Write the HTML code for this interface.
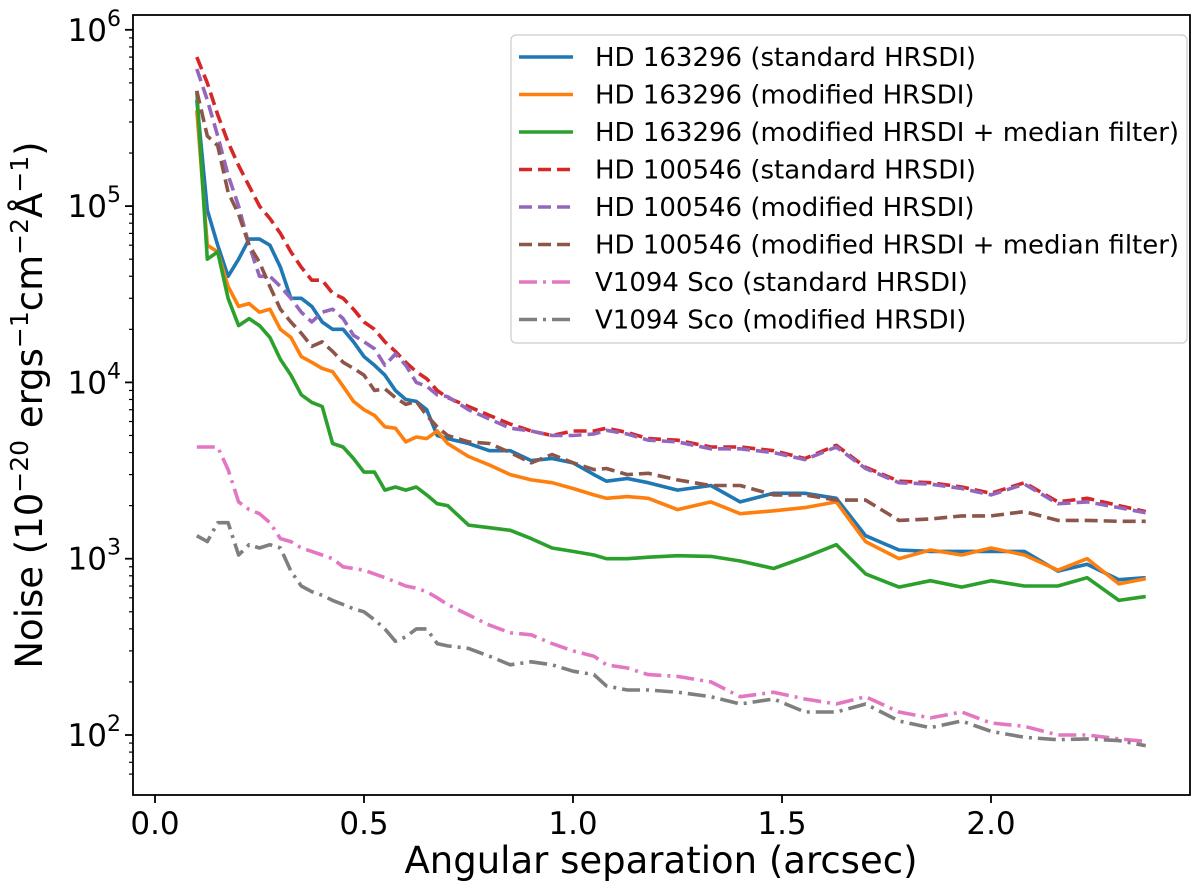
<!DOCTYPE html>
<html><head><meta charset="utf-8"><style>
body{margin:0;background:#fff;}
svg{display:block;font-family:"DejaVu Sans","Liberation Sans",sans-serif;}
</style></head><body>
<svg id="chart" width="1200" height="896">
<g id="marks"></g>
<g id="axes"></g>
<g id="legend"></g>
</svg>
<script>
const xs=[0.10,0.125,0.15,0.175,0.20,0.225,0.25,0.275,0.30,0.325,0.35,0.375,0.40,0.425,0.45,0.475,0.50,0.525,0.55,0.575,0.60,0.625,0.65,0.675,0.70,0.75,0.80,0.85,0.90,0.95,1.0,1.05,1.08,1.13,1.18,1.25,1.33,1.40,1.48,1.555,1.63,1.70,1.78,1.855,1.93,2.0,2.08,2.16,2.23,2.306,2.37];
const hdStd=[4e5,9.5e4,6e4,4e4,5e4,6.5e4,6.5e4,6e4,4.5e4,3e4,3e4,2.7e4,2.2e4,2e4,2e4,1.7e4,1.4e4,1.25e4,1.1e4,9e3,8e3,7.8e3,7e3,5e3,4.8e3,4.5e3,4.1e3,4.1e3,3.6e3,3.7e3,3.5e3,3.0e3,2.75e3,2.85e3,2.7e3,2.45e3,2.6e3,2.1e3,2.35e3,2.35e3,2.2e3,1.35e3,1.12e3,1.1e3,1.1e3,1.1e3,1.1e3,850,930,760,780];
const hdMod=[3.5e5,6e4,5.5e4,3.5e4,2.7e4,2.8e4,2.5e4,2.6e4,2e4,1.8e4,1.4e4,1.3e4,1.2e4,1.15e4,9.5e3,7.8e3,7e3,6.5e3,5.6e3,5.5e3,4.6e3,4.9e3,4.8e3,5.3e3,4.5e3,3.8e3,3.4e3,3.0e3,2.8e3,2.7e3,2.5e3,2.3e3,2.2e3,2.25e3,2.2e3,1.9e3,2.1e3,1.8e3,1.87e3,1.95e3,2.1e3,1.25e3,1.0e3,1.12e3,1.05e3,1.15e3,1.05e3,860,1.0e3,720,770];
const hdMed=[4.5e5,5e4,5.5e4,3e4,2.1e4,2.3e4,2.1e4,1.8e4,1.35e4,1.1e4,8.5e3,7.7e3,7.3e3,4.5e3,4.3e3,3.7e3,3.1e3,3.1e3,2.45e3,2.55e3,2.45e3,2.55e3,2.3e3,2.05e3,2.0e3,1.55e3,1.5e3,1.45e3,1.3e3,1.15e3,1.1e3,1.05e3,1.0e3,1.0e3,1.02e3,1.04e3,1.03e3,970,880,1.02e3,1.2e3,820,690,750,690,750,700,700,780,580,610];
const hd2Std=[7e5,5e5,3.3e5,2.3e5,1.7e5,1.3e5,1e5,8.5e4,7e4,5.5e4,4.5e4,3.8e4,3.8e4,3.2e4,3e4,2.6e4,2.2e4,2e4,1.7e4,1.5e4,1.3e4,1.15e4,1.05e4,9e3,8.2e3,7.3e3,6.5e3,5.8e3,5.3e3,5.0e3,5.3e3,5.3e3,5.5e3,5.2e3,4.8e3,4.7e3,4.3e3,4.3e3,4.1e3,3.7e3,4.4e3,3.3e3,2.75e3,2.7e3,2.55e3,2.35e3,2.7e3,2.1e3,2.2e3,2.0e3,1.85e3];
const hd2Mod=[6e5,4e5,2.5e5,1.5e5,1e5,6e4,4e4,4e4,3.5e4,3e4,2.5e4,2.2e4,2.5e4,2.6e4,2.3e4,1.85e4,1.7e4,1.55e4,1.25e4,1.45e4,1.25e4,1e4,9.5e3,8.5e3,8.3e3,7.0e3,6.2e3,5.5e3,5.3e3,5.0e3,5.0e3,5.1e3,5.35e3,5.1e3,4.7e3,4.6e3,4.2e3,4.2e3,4.0e3,3.65e3,4.3e3,3.25e3,2.7e3,2.65e3,2.5e3,2.3e3,2.65e3,2.05e3,2.1e3,1.95e3,1.82e3];
const hd2Med=[4.5e5,2.5e5,2.2e5,1.2e5,9e4,6e4,4.8e4,3.5e4,2.6e4,2.2e4,1.9e4,1.6e4,1.7e4,1.5e4,1.3e4,1.2e4,1.1e4,9e3,9.2e3,8.2e3,7.5e3,7.8e3,6.5e3,5.6e3,5.0e3,4.6e3,4.5e3,4.0e3,3.5e3,3.9e3,3.5e3,3.2e3,3.25e3,3.0e3,3.05e3,2.8e3,2.6e3,2.6e3,2.3e3,2.3e3,2.15e3,2.15e3,1.65e3,1.68e3,1.75e3,1.75e3,1.85e3,1.65e3,1.65e3,1.63e3,1.63e3];
const vStd=[4.3e3,4.3e3,4.3e3,3.2e3,2.1e3,1.9e3,1.8e3,1.6e3,1.3e3,1.25e3,1.15e3,1.1e3,1.05e3,1.0e3,900,880,860,820,780,740,700,680,650,600,550,480,420,380,370,330,300,280,250,240,220,215,200,165,175,160,150,165,135,125,135,117,112,100,100,95,92];
const vMod=[1.35e3,1.25e3,1.6e3,1.6e3,1.05e3,1.2e3,1.15e3,1.2e3,1.15e3,850,700,650,620,580,550,520,500,450,400,340,360,400,400,330,320,310,280,250,260,250,230,220,190,180,180,175,165,150,160,135,135,150,120,110,120,105,97,94,95,93,87];
const names=["HD 163296 (standard HRSDI)","HD 163296 (modified HRSDI)","HD 163296 (modified HRSDI + median filter)","HD 100546 (standard HRSDI)","HD 100546 (modified HRSDI)","HD 100546 (modified HRSDI + median filter)","V1094 Sco (standard HRSDI)","V1094 Sco (modified HRSDI)"];
const xTicks=[0.0,0.5,1.0,1.5,2.0];
const yTicks=[2,3,4,5,6];

const series=[hdStd,hdMod,hdMed,hd2Std,hd2Mod,hd2Med,vStd,vMod];
const colors=["#1f77b4","#ff7f0e","#2ca02c","#d62728","#9467bd","#8c564b","#e377c2","#7f7f7f"];
const dashes=["","","","13,6","13,6","13,6","18,6,3,6","18,6,3,6"];
const L=133,R=1190,T=15,B=795;
const X=v=>155+(v)*418;
const Y=v=>735-(Math.log10(v)-2)*176.3;
const NS="http://www.w3.org/2000/svg";
function mk(t,a,p){const e=document.createElementNS(NS,t);for(const k in a)e.setAttribute(k,a[k]);p.appendChild(e);return e;}
const marks=document.getElementById('marks'),axes=document.getElementById('axes'),leg=document.getElementById('legend');
series.forEach((s,i)=>{
  const pts=s.map((v,j)=>X(xs[j]).toFixed(1)+","+Y(v).toFixed(1)).join(" ");
  const pl=mk('polyline',{points:pts,fill:'none',stroke:colors[i],'stroke-width':3.6,'stroke-dasharray':dashes[i],'stroke-linejoin':'round'},marks);
  
  
});
const fr=mk('rect',{x:L,y:T,width:R-L,height:B-T,fill:'none',stroke:'#000','stroke-width':1.8},axes);


xTicks.forEach(v=>{
  mk('line',{x1:X(v),x2:X(v),y1:B,y2:B+8,stroke:'#000','stroke-width':1.8},axes);
  const t=mk('text',{x:X(v),y:B+39,'text-anchor':'middle','font-size':31},axes);t.textContent=v.toFixed(1);
  
  
});
yTicks.forEach(p=>{
  const y=Y(Math.pow(10,p));
  mk('line',{x1:L-8,x2:L,y1:y,y2:y,stroke:'#000','stroke-width':1.8},axes);
  const t=mk('text',{x:L-12,y:y+11,'text-anchor':'end','font-size':31},axes);
  t.innerHTML='10<tspan dy="-15" font-size="22">'+p+'</tspan>';
  
  
  if(p<6)for(let m=2;m<10;m++){const ym=Y(m*Math.pow(10,p));if(ym>T)mk('line',{x1:L-4,x2:L,y1:ym,y2:ym,stroke:'#000','stroke-width':1.2},axes);}
});
for(let m=6;m<10;m++){const ym=Y(m*10);if(ym<B)mk('line',{x1:L-4,x2:L,y1:ym,y2:ym,stroke:'#000','stroke-width':1.2},axes);}
const xl=mk('text',{x:661,y:873,'text-anchor':'middle','font-size':37},axes);xl.textContent='Angular separation (arcsec)';


const yl=mk('text',{x:0,y:0,'text-anchor':'middle','font-size':37,transform:'translate(42,405) rotate(-90)'},axes);
yl.innerHTML='Noise (10<tspan dy="-14" font-size="25">−20</tspan><tspan dy="14"> ergs</tspan><tspan dy="-14" font-size="25">−1</tspan><tspan dy="14">cm</tspan><tspan dy="-14" font-size="25">−2</tspan><tspan dy="14">Å</tspan><tspan dy="-14" font-size="25">−1</tspan><tspan dy="14">)</tspan>';


const lb=mk('rect',{x:511,y:35,width:676,height:308,rx:5,fill:'#fff','fill-opacity':0.85,stroke:'#ccc','stroke-width':1.2},leg);


names.forEach((n,i)=>{
  const y=57+i*37.5;
  const g=mk('g',{},leg);
  
  
  mk('line',{x1:519,x2:573,y1:y,y2:y,stroke:colors[i],'stroke-width':3.6,'stroke-dasharray':dashes[i]},g);
  const t=mk('text',{x:595,y:y+9,'font-size':26},g);t.textContent=n;
});
</script>
</body></html>
